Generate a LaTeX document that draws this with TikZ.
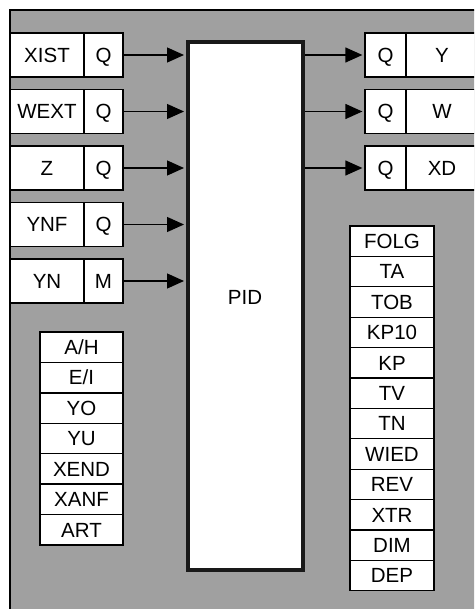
\documentclass[tikz,border=0pt]{standalone}
\usepackage{fontspec}
\setmainfont{Liberation Sans}
\usetikzlibrary{arrows.meta}
\definecolor{panel}{RGB}{160,160,160}
\begin{document}
\begin{tikzpicture}[x=1pt,y=-1pt,
  txt/.style={font=\fontsize{20.5}{24}\selectfont, text height=14.7pt, text depth=0pt},
  cell/.style={txt, draw=black, fill=white, line width=1.3pt, minimum height=44pt, inner sep=0pt},
  pcell/.style={txt, draw=black, fill=white, line width=1.3pt, minimum height=30.4pt, inner sep=0pt},
  pidbox/.style={draw=black!90, fill=white, line width=4pt, minimum width=115pt, minimum height=528pt, inner sep=0pt},
  conn/.style={line width=1.3pt, -{Triangle[length=17pt,width=15pt]}, shorten >=2pt}]
\useasboundingbox (0,0) rectangle (474,609);
\clip (0,0) rectangle (474,609);
\fill[white] (0,0) rectangle (474,609);
\draw[fill=panel, line width=1.5pt] (10,10) rectangle (500,640);

% PID block
\node[pidbox] (pid) at (245.5,306) {};
\node[txt] (pidtext) at (245,297) {PID};

% inputs
\foreach \nm/\lab/\q/\yc in {xist/XIST/Q/55, wext/WEXT/Q/111.5, z/Z/Q/168, ynf/YNF/Q/224.5, yn/YN/M/281}{
  \node[cell, minimum width=74pt] (\nm L) at (47,\yc) {\lab};
  \node[cell, minimum width=39pt] (\nm Q) at (103.5,\yc) {\q};
  \draw[conn] (\nm Q.east) -- (\nm Q.east -| pid.west);
}

% outputs
\foreach \nm/\lab/\yc in {y/Y/55, w/W/111.5, xd/XD/168}{
  \node[cell, minimum width=41pt] (\nm Q) at (385.5,\yc) {Q};
  \node[cell, minimum width=72pt] (\nm R) at (442,\yc) {\lab};
  \draw[conn] (\nm Q.west -| pid.east) -- (\nm Q.west);
}

% left parameter list
\foreach \lab [count=\i] in {A/H, E/I, YO, YU, XEND, XANF, ART}{
  \node[pcell, minimum width=83pt] (L\i) at (81.5,{332+30.43*(\i-0.5)}) {\lab};
}

% right parameter list
\foreach \lab [count=\i] in {FOLG, TA, TOB, KP10, KP, TV, TN, WIED, REV, XTR, DIM, DEP}{
  \node[pcell, minimum width=84pt] (R\i) at (392,{226+30.4*(\i-0.5)}) {\lab};
}
\end{tikzpicture}
\end{document}
